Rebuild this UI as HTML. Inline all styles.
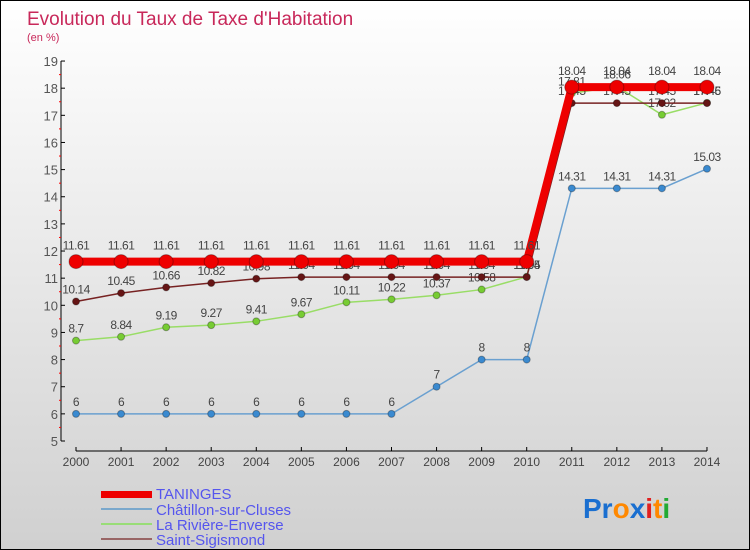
<!DOCTYPE html>
<html><head><meta charset="utf-8"><style>
body{margin:0}
#c{width:750px;height:550px;position:relative;box-sizing:border-box;border:1px solid #000;background:linear-gradient(#ffffff,#d0d0d0);font-family:"Liberation Sans",sans-serif;overflow:hidden}
text{font-family:"Liberation Sans",sans-serif}
</style></head><body>
<div id="c">
<svg id="s" width="750" height="550">
<text x="26" y="24" font-size="19" fill="#c8285a">Evolution du Taux de Taxe d'Habitation</text>
<text x="26" y="40" font-size="11" fill="#c8285a">(en %)</text>
<g id="ax"></g><g id="pl"></g>
<g>
<rect x="100" y="490" width="51" height="7" fill="#e00"/>
<text x="155" y="498" font-size="15" fill="#5555ee">TANINGES</text>
<rect x="100" y="507" width="51" height="2" fill="#7aa8cc"/>
<text x="155" y="514" font-size="15" fill="#5555ee">Châtillon-sur-Cluses</text>
<rect x="100" y="522" width="51" height="2" fill="#99dd77"/>
<text x="155" y="529" font-size="15" fill="#5555ee">La Rivière-Enverse</text>
<rect x="100" y="537" width="51" height="2" fill="#996666"/>
<text x="155" y="544" font-size="15" fill="#5555ee">Saint-Sigismond</text>
</g>
<text x="582" y="517" font-size="28" font-weight="bold"><tspan fill="#1a6fd0">Pr</tspan><tspan fill="#ff8800">o</tspan><tspan fill="#1a6fd0">x</tspan><tspan fill="#e02020">i</tspan><tspan fill="#ff8800">t</tspan><tspan fill="#22aa33">i</tspan></text>
</svg></div>
<script>
const years=[2000,2001,2002,2003,2004,2005,2006,2007,2008,2009,2010,2011,2012,2013,2014];
const taninges=[11.61,11.61,11.61,11.61,11.61,11.61,11.61,11.61,11.61,11.61,11.61,18.04,18.04,18.04,18.04];
const chatillon=[6,6,6,6,6,6,6,6,7,8,8,14.31,14.31,14.31,15.03];
const riviere=[8.7,8.84,9.19,9.27,9.41,9.67,10.11,10.22,10.37,10.58,11.05,17.81,18.06,17.02,17.46];
const sigismond=[10.14,10.45,10.66,10.82,10.98,11.04,11.04,11.04,11.04,11.04,11.04,17.45,17.45,17.45,17.45];
const yTicks=[5,6,7,8,9,10,11,12,13,14,15,16,17,18,19];
const NS="http://www.w3.org/2000/svg";
const X=i=>75+i*45.07, Y=v=>440-(v-5)*27.14;
function mk(t,a,p){const e=document.createElementNS(NS,t);for(const k in a)e.setAttribute(k,a[k]);p.appendChild(e);return e;}
const ax=document.getElementById('ax'),pl=document.getElementById('pl');
let l=mk('line',{x1:60,y1:60,x2:60,y2:440,stroke:'#000'},ax);


yTicks.forEach(v=>{
 mk('line',{x1:60,x2:64,y1:Y(v),y2:Y(v),stroke:'#000'},ax);
 if(v<19) mk('line',{x1:58,x2:60,y1:Y(v+0.5),y2:Y(v+0.5),stroke:'#f00'},ax);
 const t=mk('text',{x:57,y:Y(v)+5,'font-size':13,fill:'#555','text-anchor':'end'},ax);
 
 
 t.textContent=v;
});
l=mk('line',{x1:75,y1:450,x2:706,y2:450,stroke:'#000'},ax);


years.forEach((y,i)=>{
 mk('line',{x1:X(i),x2:X(i),y1:446,y2:450,stroke:'#000'},ax);
 const t=mk('text',{x:X(i),y:465,'font-size':12,fill:'#444','text-anchor':'middle'},ax);
 
 
 t.textContent=y;
});
function series(d,name,col,w,r,dot,lab){
 const g=mk('g',{},pl);
 
 
 const p=mk('polyline',{points:d.map((v,i)=>X(i)+','+Y(v)).join(' '),fill:'none',stroke:col,'stroke-width':w},g);
 
 
 d.forEach((v,i)=>{
  const c=mk('circle',{cx:X(i),cy:Y(v),r:r,fill:dot,stroke:'rgba(0,0,0,0.3)'},g);
  
  
  const t=mk('text',{x:X(i),y:Y(v)-lab,'font-size':12,fill:'#444','text-anchor':'middle','letter-spacing':'-0.5'},g);
  
  
  t.textContent=v;
 });
}
series(chatillon,'chatillon','#6aa0d0',1.5,3.5,'#3a8ad0',8);
series(riviere,'riviere','#99dd66',1.5,3.5,'#77cc33',8);
series(sigismond,'sigismond','#772222',1.5,3.5,'#661515',8);
series(taninges,'taninges','#ee0000',8,7,'#ee0000',12);
</script>
</body></html>
